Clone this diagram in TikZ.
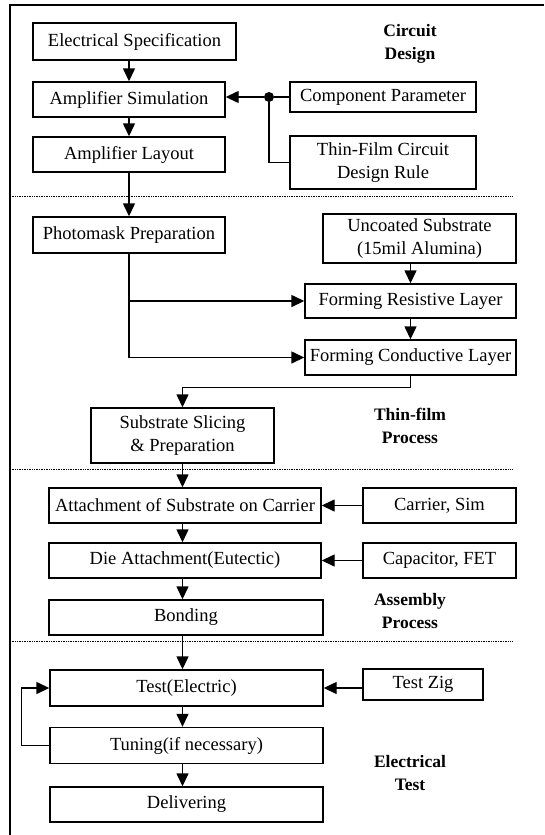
\documentclass[tikz,border=0pt]{standalone}
\usepackage{fontspec}
\setmainfont{Liberation Serif}
\usetikzlibrary{calc,positioning,arrows.meta}

\begin{document}
\begin{tikzpicture}[x=1pt,y=-1pt,
                  blk/.style={draw,line width=1.4pt,inner sep=2pt,align=center,font=\fontsize{18.5}{23}\selectfont},
                  arr/.style={-{Triangle[length=13pt,width=12pt]},line width=1.4pt},
                  lin/.style={line width=1.4pt},
                  sep/.style={densely dotted,line width=0.7pt},
                  lab/.style={align=center,font=\fontsize{17.5}{23}\selectfont\bfseries}]
                  \useasboundingbox (0,0) rectangle (544,835);
                  \draw[line width=1.5pt] (10,835) -- (10,5) -- (544,5);

                  \node[blk,minimum width=203pt,minimum height=37pt] (spec) at (134.5,41.5) {Electrical Specification};
                  \node[blk,minimum width=192pt,minimum height=35pt] (sim) at (129,99.5) {Amplifier Simulation};
                  \node[blk,minimum width=192pt,minimum height=35pt] (lay) at (129,154.5) {Amplifier Layout};
                  \node[blk,minimum width=186pt,minimum height=30pt] (comp) at (383,97) {Component Parameter};
                  \node[blk,minimum width=186pt,minimum height=53pt] (rule) at (383,162.5) {Thin-Film Circuit\\Design Rule};
                  \node[circle,fill=black,inner sep=0pt,minimum size=10pt] (dot) at (269,97) {};

                  \node[blk,minimum width=192pt,minimum height=36pt] (photo) at (129,235) {Photomask Preparation};
                  \node[blk,minimum width=193pt,minimum height=49pt] (uncoat) at (419.5,238.5) {Uncoated Substrate\\(15mil Alumina)};
                  \node[blk,minimum width=211pt,minimum height=34pt] (resist) at (410.5,301) {Forming Resistive Layer};
                  \node[blk,minimum width=211pt,minimum height=35pt] (cond) at (410.5,357.5) {Forming Conductive Layer};
                  \node[blk,minimum width=183pt,minimum height=55pt] (slice) at (182.5,435.5) {Substrate Slicing\\\&~Preparation};

                  \node[blk,minimum width=272pt,minimum height=35pt] (attach) at (185,505.5) {Attachment of Substrate on Carrier};
                  \node[blk,minimum width=153pt,minimum height=35pt] (carrier) at (439.5,505.5) {Carrier, Sim};
                  \node[blk,minimum width=272pt,minimum height=35pt] (die) at (185,560.5) {Die Attachment(Eutectic)};
                  \node[blk,minimum width=153pt,minimum height=35pt] (cap) at (439.5,560.5) {Capacitor, FET};
                  \node[blk,minimum width=274pt,minimum height=35pt] (bond) at (186,617.5) {Bonding};

                  \node[blk,minimum width=273pt,minimum height=36pt] (test) at (186.5,688) {Test(Electric)};
                  \node[blk,minimum width=120pt,minimum height=31pt] (zig) at (423,684.5) {Test Zig};
                  \node[blk,minimum width=273pt,minimum height=36pt] (tune) at (186.5,745.5) {Tuning(if necessary)};
                  \node[blk,minimum width=273pt,minimum height=35pt] (deliv) at (186.5,804.5) {Delivering};

                  \node[lab] (l1) at (410,44) {Circuit\\Design};
                  \node[lab] (l2) at (410,426) {Thin-film\\Process};
                  \node[lab] (l3) at (410,611) {Assembly\\Process};
                  \node[lab] (l4) at (410,773) {Electrical\\Test};

                  \draw[sep] (10,196) -- (512,196);
                  \draw[sep] (10,469) -- (512,469);
                  \draw[sep] (10,641) -- (512,641);

                  \draw[arr] (spec.south -| sim.north) -- (sim.north);
                  \draw[arr] (sim) -- (lay);
                  \draw[arr] (lay) -- (photo);
                  \draw[lin] (comp.west) -- (dot);
                  \draw[arr] (dot) -- (dot -| sim.east);
                  \draw[lin] (dot) |- (rule.west);

                  \draw[lin] (photo.south) -- (photo.south |- cond.west);
                  \draw[arr] (photo.south |- resist.west) -- (resist.west);
                  \draw[arr] (photo.south |- cond.west) -- (cond.west);
                  \draw[arr] (uncoat.south -| resist.north) -- (resist.north);
                  \draw[arr] (resist) -- (cond);
                  \draw[arr] (cond.south) -- ++(0,12) -| (slice.north);

                  \draw[arr] (slice.south) -- (slice.south |- attach.north);
                  \draw[arr] (carrier.west) -- (attach.east);
                  \draw[arr] (attach.south -| slice.south) -- (die.north -| slice.south);
                  \draw[arr] (cap.west) -- (die.east);
                  \draw[arr] (die.south -| slice.south) -- (bond.north -| slice.south);
                  \draw[arr] (bond.south -| slice.south) -- (test.north -| slice.south);
                  \draw[arr] (zig.west |- test.east) -- (test.east);
                  \draw[arr] (test.south -| slice.south) -- (tune.north -| slice.south);
                  \draw[arr] (tune.south -| slice.south) -- (deliv.north -| slice.south);
                  \draw[arr] (tune.west) -- ++(-28,0) |- (test.west);
              \end{tikzpicture}
\end{document}
